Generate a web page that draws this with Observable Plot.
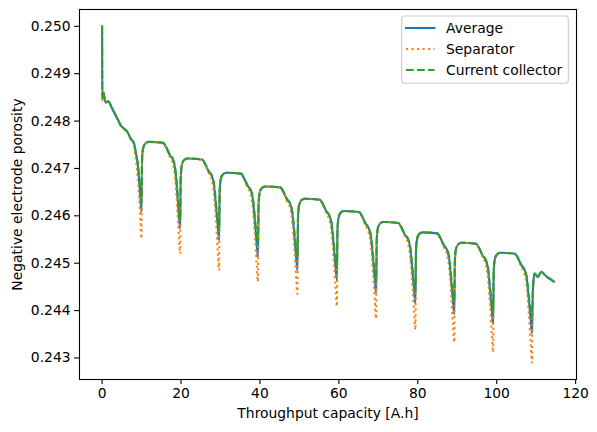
<!DOCTYPE html>
<html><head><meta charset="utf-8">
<script src="https://cdn.jsdelivr.net/npm/d3@7"></script>
<script src="https://cdn.jsdelivr.net/npm/@observablehq/plot@0.6"></script>
<style>body{margin:0;background:#fff;}</style>
</head><body><div id="chart"></div>
<script>
const capacity = [
  0, 0.06, 0.25, 0.9, 1.6, 2.2, 3.0, 3.9, 4.7, 5.55, 6.4, 7.25, 8.1, 8.5, 8.95, 9.35, 9.7, 9.97,
  10.12, 10.37, 10.87, 11.77, 15.48, 16.28, 17.18, 17.88, 18.48, 18.98, 19.43, 19.78,
  19.93, 20.18, 20.68, 21.58, 25.35, 26.15, 27.05, 27.75, 28.35, 28.85, 29.30, 29.65,
  29.80, 30.05, 30.55, 31.45, 35.20, 36.00, 36.90, 37.60, 38.20, 38.70, 39.15, 39.50,
  39.65, 39.90, 40.40, 41.30, 45.20, 46.00, 46.90, 47.60, 48.20, 48.70, 49.15, 49.50,
  49.65, 49.90, 50.40, 51.30, 55.20, 56.00, 56.90, 57.60, 58.20, 58.70, 59.15, 59.50,
  59.65, 59.90, 60.40, 61.30, 65.15, 65.95, 66.85, 67.55, 68.15, 68.65, 69.10, 69.45,
  69.60, 69.85, 70.35, 71.25, 75.10, 75.90, 76.80, 77.50, 78.10, 78.60, 79.05, 79.40,
  79.55, 79.80, 80.30, 81.20, 84.95, 85.75, 86.65, 87.35, 87.95, 88.45, 88.90, 89.25,
  89.40, 89.65, 90.15, 91.05, 94.80, 95.60, 96.50, 97.20, 97.80, 98.30, 98.75, 99.10,
  99.25, 99.50, 100.00, 100.90, 104.65, 105.45, 106.35, 107.05, 107.65, 108.15, 108.60, 108.95,
  109.10, 109.35, 109.60, 110.00, 110.45, 110.90, 111.30, 112.10, 112.90, 113.70, 114.50
];
const average = [
  0.25000, 0.24844, 0.24861, 0.24839, 0.24842, 0.24833, 0.24819, 0.24805, 0.24791, 0.24784, 0.24777, 0.24763, 0.24753, 0.24735, 0.24714, 0.24679, 0.24640, 0.24608,
  0.24716, 0.24741, 0.24752, 0.24756, 0.24754, 0.24744, 0.24728, 0.24720, 0.24701, 0.24656, 0.24603, 0.24573,
  0.24681, 0.24706, 0.24717, 0.24721, 0.24719, 0.24709, 0.24693, 0.24685, 0.24666, 0.24621, 0.24579, 0.24549,
  0.24651, 0.24676, 0.24687, 0.24691, 0.24689, 0.24679, 0.24663, 0.24655, 0.24636, 0.24591, 0.24543, 0.24513,
  0.24622, 0.24647, 0.24658, 0.24662, 0.24660, 0.24650, 0.24634, 0.24626, 0.24607, 0.24562, 0.24515, 0.24485,
  0.24596, 0.24621, 0.24632, 0.24636, 0.24634, 0.24624, 0.24608, 0.24600, 0.24581, 0.24536, 0.24494, 0.24464,
  0.24570, 0.24595, 0.24606, 0.24610, 0.24608, 0.24598, 0.24582, 0.24574, 0.24555, 0.24510, 0.24467, 0.24437,
  0.24547, 0.24572, 0.24583, 0.24587, 0.24585, 0.24575, 0.24559, 0.24551, 0.24532, 0.24487, 0.24445, 0.24415,
  0.24525, 0.24550, 0.24561, 0.24565, 0.24563, 0.24553, 0.24537, 0.24529, 0.24510, 0.24465, 0.24422, 0.24392,
  0.24503, 0.24528, 0.24539, 0.24543, 0.24541, 0.24531, 0.24515, 0.24507, 0.24488, 0.24443, 0.24401, 0.24371,
  0.24482, 0.24507, 0.24518, 0.24522, 0.24520, 0.24510, 0.24494, 0.24486, 0.24467, 0.24422, 0.24382, 0.24352,
  0.24420, 0.24465, 0.24478, 0.24475, 0.24471, 0.24477, 0.24482, 0.24476, 0.24470, 0.24466, 0.24461
];
const separator = [
  0.25000, 0.24844, 0.24861, 0.24839, 0.24842, 0.24833, 0.24819, 0.24805, 0.24791, 0.24784, 0.24777, 0.24763, 0.24750, 0.24722, 0.24686, 0.24643, 0.24590, 0.24552,
  0.24706, 0.24741, 0.24752, 0.24756, 0.24753, 0.24742, 0.24724, 0.24711, 0.24681, 0.24626, 0.24560, 0.24520,
  0.24671, 0.24706, 0.24717, 0.24721, 0.24718, 0.24707, 0.24689, 0.24676, 0.24646, 0.24591, 0.24525, 0.24485,
  0.24641, 0.24676, 0.24687, 0.24691, 0.24688, 0.24677, 0.24659, 0.24646, 0.24616, 0.24561, 0.24501, 0.24461,
  0.24612, 0.24647, 0.24658, 0.24662, 0.24659, 0.24648, 0.24630, 0.24617, 0.24587, 0.24532, 0.24475, 0.24435,
  0.24586, 0.24621, 0.24632, 0.24636, 0.24633, 0.24622, 0.24604, 0.24591, 0.24561, 0.24506, 0.24449, 0.24409,
  0.24560, 0.24595, 0.24606, 0.24610, 0.24607, 0.24596, 0.24578, 0.24565, 0.24535, 0.24480, 0.24423, 0.24383,
  0.24537, 0.24572, 0.24583, 0.24587, 0.24584, 0.24573, 0.24555, 0.24542, 0.24512, 0.24457, 0.24399, 0.24359,
  0.24515, 0.24550, 0.24561, 0.24565, 0.24562, 0.24551, 0.24533, 0.24520, 0.24490, 0.24435, 0.24373, 0.24333,
  0.24493, 0.24528, 0.24539, 0.24543, 0.24540, 0.24529, 0.24511, 0.24498, 0.24468, 0.24413, 0.24352, 0.24312,
  0.24472, 0.24507, 0.24518, 0.24522, 0.24519, 0.24508, 0.24490, 0.24477, 0.24447, 0.24392, 0.24330, 0.24290,
  0.24400, 0.24460, 0.24478, 0.24475, 0.24471, 0.24477, 0.24482, 0.24476, 0.24470, 0.24466, 0.24461
];
const currentCollector = [
  0.25000, 0.24850, 0.24862, 0.24840, 0.24842, 0.24833, 0.24819, 0.24805, 0.24791, 0.24784, 0.24777, 0.24763, 0.24753, 0.24736, 0.24716, 0.24685, 0.24650, 0.24625,
  0.24718, 0.24742, 0.24752, 0.24756, 0.24754, 0.24744, 0.24729, 0.24721, 0.24703, 0.24664, 0.24612, 0.24592,
  0.24683, 0.24707, 0.24717, 0.24721, 0.24719, 0.24709, 0.24694, 0.24686, 0.24668, 0.24629, 0.24590, 0.24570,
  0.24653, 0.24677, 0.24687, 0.24691, 0.24689, 0.24679, 0.24664, 0.24656, 0.24638, 0.24599, 0.24560, 0.24540,
  0.24624, 0.24648, 0.24658, 0.24662, 0.24660, 0.24650, 0.24635, 0.24627, 0.24609, 0.24570, 0.24530, 0.24510,
  0.24598, 0.24622, 0.24632, 0.24636, 0.24634, 0.24624, 0.24609, 0.24601, 0.24583, 0.24544, 0.24510, 0.24490,
  0.24572, 0.24596, 0.24606, 0.24610, 0.24608, 0.24598, 0.24583, 0.24575, 0.24557, 0.24518, 0.24482, 0.24462,
  0.24549, 0.24573, 0.24583, 0.24587, 0.24585, 0.24575, 0.24560, 0.24552, 0.24534, 0.24495, 0.24460, 0.24440,
  0.24527, 0.24551, 0.24561, 0.24565, 0.24563, 0.24553, 0.24538, 0.24530, 0.24512, 0.24473, 0.24438, 0.24418,
  0.24505, 0.24529, 0.24539, 0.24543, 0.24541, 0.24531, 0.24516, 0.24508, 0.24490, 0.24451, 0.24418, 0.24398,
  0.24484, 0.24508, 0.24518, 0.24522, 0.24520, 0.24510, 0.24495, 0.24487, 0.24469, 0.24430, 0.24404, 0.24384,
  0.24430, 0.24467, 0.24478, 0.24475, 0.24471, 0.24477, 0.24482, 0.24476, 0.24470, 0.24466, 0.24461
];
const xTicks = [0, 20, 40, 60, 80, 100, 120];
const yTicks = [0.243, 0.244, 0.245, 0.246, 0.247, 0.248, 0.249, 0.250];
const seriesNames = ["Average", "Separator", "Current collector"];
const seriesColors = ["#1f77b4", "#ff7f0e", "#2ca02c"];
const seriesDash = [null, "2.08,3.43", "7.7,3.33"];
const xLabel = "Throughput capacity [A.h]";
const yLabel = "Negative electrode porosity";

const rows = capacity.map((x, i) => ({x, avg: average[i], sep: separator[i], cc: currentCollector[i]}));
const FS = 13.89;

const chart = Plot.plot({
  width: 597, height: 432,
  marginLeft: 79, marginRight: 21, marginTop: 9, marginBottom: 53,
  style: {fontFamily: "DejaVu Sans", fontSize: FS + "px", background: "white", color: "black", overflow: "visible"},
  x: {domain: [-5.725, 120.225]},
  y: {domain: [0.242545, 0.250355]},
  marks: [
    Plot.line(rows, {x: "x", y: "avg", stroke: seriesColors[0], strokeWidth: 2.08, strokeLinecap: "square", curve: "monotone-x"}),
    Plot.line(rows, {x: "x", y: "sep", stroke: seriesColors[1], strokeWidth: 2.08, strokeDasharray: seriesDash[1], strokeLinecap: "butt", curve: "monotone-x"}),
    Plot.line(rows, {x: "x", y: "cc", stroke: seriesColors[2], strokeWidth: 2.08, strokeDasharray: seriesDash[2], strokeLinecap: "butt", curve: "monotone-x"}),
    Plot.frame({stroke: "black", strokeWidth: 1.1}),
    Plot.axisX({ticks: xTicks, tickSize: 4.9, tickPadding: 4, strokeWidth: 1.1, label: null, fontSize: FS, tickFormat: d => String(d)}),
    Plot.axisY({ticks: yTicks, tickSize: 4.9, tickPadding: 4, strokeWidth: 1.1, label: null, fontSize: FS, tickFormat: d3.format(".3f")}),
    Plot.text([xLabel], {frameAnchor: "bottom", dy: 34, lineAnchor: "middle", textAnchor: "middle", text: d => d, fontSize: FS, fill: "black"}),
    Plot.text([yLabel], {frameAnchor: "left", dx: -62, rotate: -90, lineAnchor: "middle", textAnchor: "middle", text: d => d, fontSize: FS, fill: "black"})
  ]
});

const svg = d3.select(chart);
const lg = svg.append("g").attr("font-family", "DejaVu Sans").attr("font-size", FS).attr("text-anchor", "start");
lg.append("rect").attr("x", 401.7).attr("y", 16).attr("width", 166.6).attr("height", 67.3)
  .attr("rx", 3).attr("fill", "white").attr("fill-opacity", 0.8)
  .attr("stroke", "#cccccc").attr("stroke-width", 1.1);
seriesNames.forEach((name, i) => {
  const yy = 28 + i * 21;
  const ln = lg.append("line").attr("x1", 406).attr("x2", 434.5).attr("y1", yy).attr("y2", yy)
    .attr("fill", "none").attr("stroke", seriesColors[i]).attr("stroke-width", 2.08)
    .attr("stroke-linecap", i === 0 ? "square" : "butt");
  if (seriesDash[i]) ln.attr("stroke-dasharray", seriesDash[i]);
  lg.append("text").attr("x", 446).attr("y", yy).attr("dy", "0.36em").attr("fill", "black")
    .attr("text-anchor", "start").text(name);
});

document.getElementById("chart").appendChild(chart);
</script>
</body></html>
